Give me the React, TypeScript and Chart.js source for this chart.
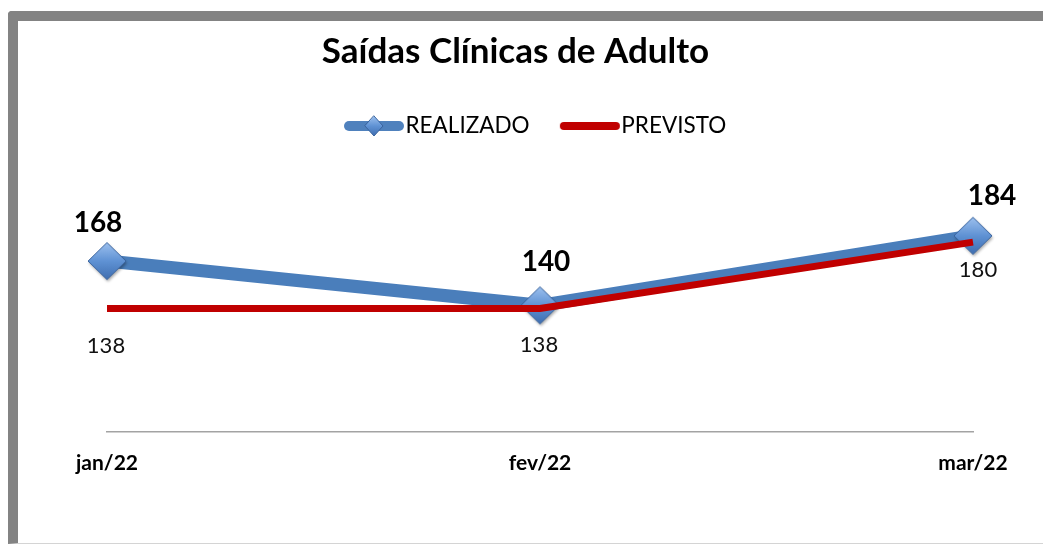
import React, { useEffect, useRef } from 'react';
import { Chart, registerables } from 'chart.js';

Chart.register(...registerables);

// ---- data ----
const categories = ['jan/22', 'fev/22', 'mar/22'];
const realizado = [168, 140, 184];
const previsto = [138, 138, 180];
const seriesNames = ['REALIZADO', 'PREVISTO'];
const chartTitle = 'Saídas Clínicas de Adulto';

// data-label offsets (px) relative to each point
const realizadoLabelDx = [-9, 6, 19];
const realizadoLabelDy = [-38, -43, -40];
const previstoLabelDx = [-1, -1, 5];
const previstoLabelDy = [37, 36, 28];

const BLUE = '#4a7ebb';
const RED = '#c00000';
const FONT = 'Lato, "Open Sans", sans-serif';

function drawDiamond(ctx: CanvasRenderingContext2D, cx: number, cy: number, rx: number, ry: number, shadow: boolean) {
  ctx.save();
  if (shadow) {
    ctx.shadowColor = 'rgba(0,0,0,0.35)';
    ctx.shadowBlur = 3;
    ctx.shadowOffsetX = 1;
    ctx.shadowOffsetY = 2;
  }
  const g = ctx.createLinearGradient(cx, cy - ry, cx, cy + ry);
  g.addColorStop(0, '#9cc0ee');
  g.addColorStop(0.5, '#5f92d4');
  g.addColorStop(1, '#3f6eb0');
  ctx.beginPath();
  ctx.moveTo(cx, cy - ry);
  ctx.lineTo(cx + rx, cy);
  ctx.lineTo(cx, cy + ry);
  ctx.lineTo(cx - rx, cy);
  ctx.closePath();
  ctx.fillStyle = g;
  ctx.fill();
  ctx.shadowColor = 'transparent';
  ctx.strokeStyle = '#3a649e';
  ctx.lineWidth = 1;
  ctx.stroke();
  ctx.restore();
}

function makeMarker(): HTMLCanvasElement {
  const c = document.createElement('canvas');
  c.width = 48;
  c.height = 48;
  const ctx = c.getContext('2d')!;
  drawDiamond(ctx, 24, 24, 19, 18.5, true);
  return c;
}

function makeLegendIcon(color: string, width: number, withDiamond: boolean): HTMLCanvasElement {
  const c = document.createElement('canvas');
  c.width = 64;
  c.height = 26;
  const ctx = c.getContext('2d')!;
  ctx.strokeStyle = color;
  ctx.lineWidth = width;
  ctx.lineCap = 'round';
  ctx.beginPath();
  ctx.moveTo(2 + width / 2, 13);
  ctx.lineTo(62 - width / 2, 13);
  ctx.stroke();
  if (withDiamond) drawDiamond(ctx, 32, 13, 9, 10, false);
  return c;
}

export default function App() {
  const ref = useRef<HTMLCanvasElement>(null);

  useEffect(() => {
    if (!ref.current) return;
    const marker = makeMarker();
    const icons = [makeLegendIcon('#4f81bd', 10, true), makeLegendIcon(RED, 8, false)];

    const dataLabels = {
      id: 'dataLabels',
      afterDatasetsDraw(chart: any) {
        const ctx = chart.ctx as CanvasRenderingContext2D;
        ctx.save();
        ctx.textAlign = 'center';
        ctx.textBaseline = 'middle';
        ctx.fillStyle = '#000';
        ctx.font = `bold 28px ${FONT}`;
        chart.getDatasetMeta(0).data.forEach((pt: any, i: number) => {
          ctx.fillText(String(realizado[i]), pt.x + realizadoLabelDx[i], pt.y + realizadoLabelDy[i]);
        });
        ctx.fillStyle = '#111';
        ctx.font = `22px ${FONT}`;
        chart.getDatasetMeta(1).data.forEach((pt: any, i: number) => {
          ctx.fillText(String(previsto[i]), pt.x + previstoLabelDx[i], pt.y + previstoLabelDy[i]);
        });
        ctx.restore();
      },
    };

    const chart = new Chart(ref.current, {
      type: 'line',
      data: {
        labels: categories,
        datasets: [
          {
            label: seriesNames[0],
            data: realizado,
            borderColor: BLUE,
            backgroundColor: BLUE,
            borderWidth: 13,
            pointStyle: marker as any,
            pointRadius: 19,
            tension: 0,
            order: 1,
            yAxisID: 'y',
          },
          {
            label: seriesNames[1],
            data: previsto,
            borderColor: RED,
            backgroundColor: RED,
            borderWidth: 7,
            pointRadius: 0,
            tension: 0,
            order: 0,
            yAxisID: 'y',
          },
        ],
      },
      options: {
        responsive: false,
        animation: false,
        layout: { padding: { top: 0, left: 0, right: 12, bottom: 50 } },
        plugins: {
          title: {
            display: true,
            text: chartTitle,
            color: '#000',
            font: { family: FONT, size: 35, weight: 'bold' },
            padding: { top: 31, bottom: 1.75 },
          },
          legend: {
            display: true,
            fullSize: false,
            labels: {
              usePointStyle: true,
              pointStyleWidth: 40.5,
              padding: 40,
              color: '#262626',
              font: { family: FONT, size: 22.5 },
              generateLabels: (ch: any) =>
                ch.data.datasets.map((ds: any, i: number) => ({
                  text: ds.label,
                  datasetIndex: i,
                  pointStyle: icons[i],
                  fillStyle: 'transparent',
                  strokeStyle: 'transparent',
                  lineWidth: 0,
                  hidden: false,
                })),
            },
          },
          tooltip: { enabled: false },
        },
        scales: {
          x: {
            type: 'category',
            offset: false,
            grid: { display: false, drawTicks: false },
            border: { display: true, color: '#a3a3a3', width: 1.5 },
            ticks: {
              color: '#000',
              padding: 19,
              maxRotation: 0,
              font: { family: FONT, size: 21, weight: 'bold' },
            },
          },
          y: {
            type: 'linear',
            position: 'left',
            min: 60,
            max: 240,
            display: true,
            grid: { display: false },
            border: { display: false },
            ticks: { display: false },
            afterFit: (s: any) => {
              s.width = 107;
            },
          },
          y2: {
            type: 'linear',
            position: 'right',
            display: true,
            grid: { display: false },
            border: { display: false },
            ticks: { display: false },
            afterFit: (s: any) => {
              s.width = 58;
            },
          },
        },
      } as any,
      plugins: [dataLabels],
    });
    return () => chart.destroy();
  }, []);

  return (
    <>
      <div
        style={{
          position: 'fixed',
          left: 8,
          top: 11,
          width: 1025,
          height: 522,
          borderTop: '10px solid #838383',
          borderLeft: '10px solid #838383',
          borderBottom: '1px solid #d4d4d4',
          borderTopLeftRadius: 4,
          background: '#fff',
        }}
      />
      <canvas
        ref={ref}
        width={1043}
        height={545}
        style={{ position: 'fixed', left: 0, top: 0, width: 1043, height: 545 }}
      />
    </>
  );
}
